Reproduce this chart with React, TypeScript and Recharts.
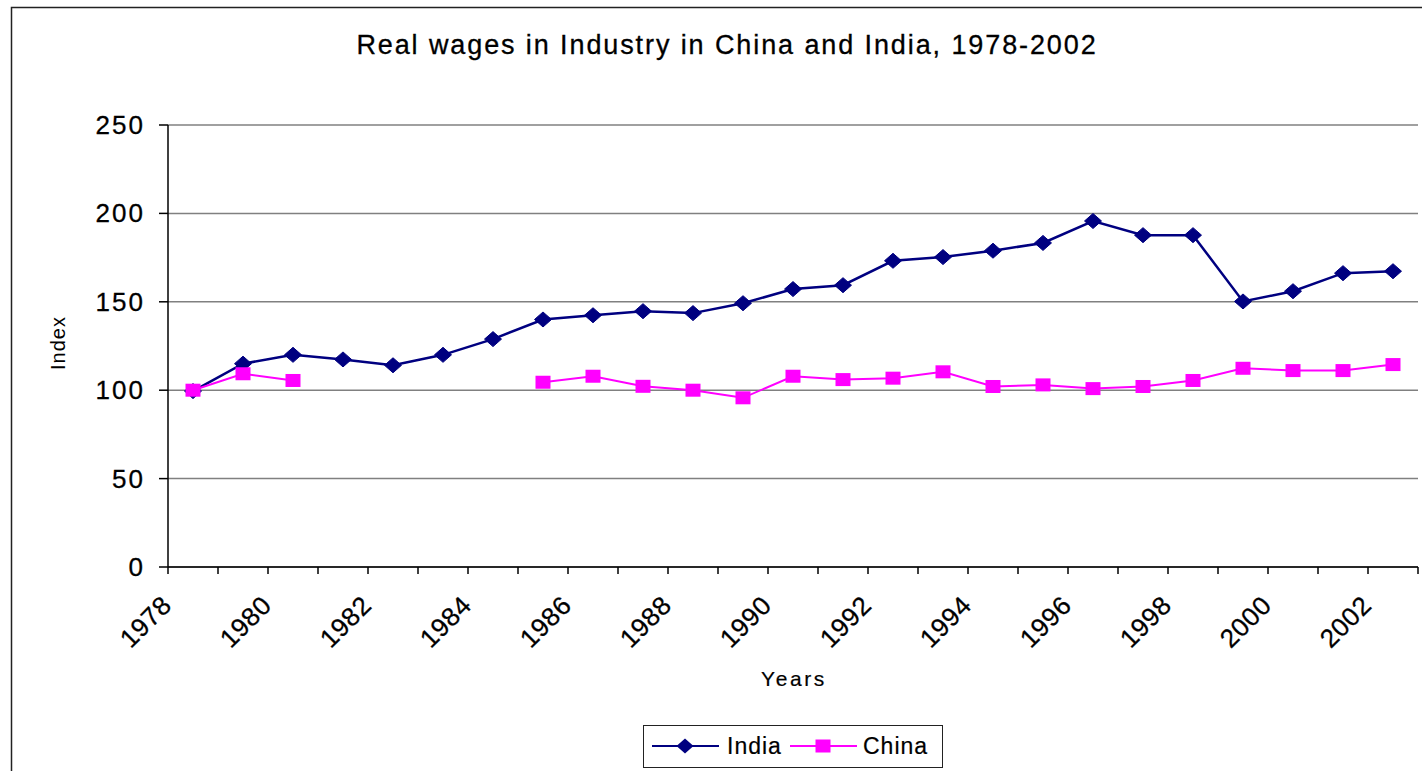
import React from 'react';
import { LineChart, Line, XAxis, YAxis, CartesianGrid, Legend } from 'recharts';

const years = ['1978', '1979', '1980', '1981', '1982', '1983', '1984', '1985', '1986', '1987', '1988', '1989', '1990', '1991', '1992', '1993', '1994', '1995', '1996', '1997', '1998', '1999', '2000', '2001', '2002'];
const india = [99.5, 115, 120, 117.4, 114.1, 120, 128.9, 140, 142.4, 144.7, 143.6, 149.2, 157.2, 159.4, 173.2, 175.3, 178.9, 183.3, 195.7, 187.7, 187.7, 150.2, 156, 166.2, 167.3];
const china = [100, 109.3, 105.5, null, null, null, null, 104.5, 107.9, 102.2, 100, 95.7, 107.9, 106, 106.8, 110.4, 102.1, 103, 100.9, 102.1, 105.5, 112.4, 111.1, 111.1, 114.5];
const yTicks = [0, 50, 100, 150, 200, 250];
const seriesNames = ['India', 'China'];
const title = 'Real wages in Industry in China and India, 1978-2002';
const xTitle = 'Years';
const yTitle = 'Index';

const data = years.map((y, i) => ({ year: y, India: india[i], China: china[i] }));

const FONT = '"Liberation Sans", Arial, Helvetica, sans-serif';
const HALF = 25;
const INDIA_COLOR = '#000080';
const CHINA_COLOR = '#FF00FF';

function XTick(props: any) {
  const { x, y, payload, index } = props;
  const bx = x - HALF;
  const isEven = Number(payload.value) % 2 === 0;
  const isLast = index === years.length - 1 || payload.value === years[years.length - 1];
  const ax = bx + 5;
  const ay = y + 40;
  return (
    <g>
      <line x1={bx} y1={y} x2={bx} y2={y + 7} stroke="#000" strokeWidth={1.5} />
      {isLast && <line x1={x + HALF} y1={y} x2={x + HALF} y2={y + 7} stroke="#000" strokeWidth={1.5} />}
      {isEven && (
        <text
          x={ax}
          y={ay}
          textAnchor="end"
          transform={`rotate(-45 ${ax} ${ay})`}
          fontSize={26}
          fontFamily={FONT}
          fill="#000"
          stroke="#000"
          strokeWidth={0.3}
          style={{ letterSpacing: '0.5px' }}
        >
          {payload.value}
        </text>
      )}
    </g>
  );
}

function YTick(props: any) {
  const { x, y, payload } = props;
  return (
    <text x={x} y={y + 9} textAnchor="end" fontSize={26} fontFamily={FONT} fill="#000" stroke="#000" strokeWidth={0.3} style={{ letterSpacing: '2px' }}>
      {payload.value}
    </text>
  );
}

function DiamondDot(props: any) {
  const { cx, cy, index } = props;
  if (cx == null || cy == null || props.value == null) return <g key={`d-${index}`} />;
  return (
    <path
      key={`d-${index}`}
      d={`M${cx},${cy - 7.5} L${cx + 8.5},${cy} L${cx},${cy + 7.5} L${cx - 8.5},${cy} Z`}
      fill={INDIA_COLOR}
      stroke={INDIA_COLOR}
      strokeWidth={1}
    />
  );
}

function SquareDot(props: any) {
  const { cx, cy, index } = props;
  if (cx == null || cy == null || props.value == null) return <g key={`s-${index}`} />;
  return <rect key={`s-${index}`} x={cx - 7.5} y={cy - 6.5} width={15} height={13} fill={CHINA_COLOR} />;
}

function LegendBox(props: any) {
  const payload = props.payload || [];
  const slots = [
    { lx1: 9, lx2: 76, mx: 42, tx: 84 },
    { lx1: 147, lx2: 214, mx: 180, tx: 220 },
  ];
  const ordered = seriesNames
    .map((n) => payload.find((p: any) => p.value === n || p.dataKey === n))
    .filter(Boolean);
  return (
    <svg width={300} height={43} style={{ display: 'block' }}>
      <rect x={0.5} y={0.5} width={299} height={42} fill="#fff" stroke="#222" strokeWidth={1} />
      {ordered.map((p: any, i: number) => {
        const s = slots[i] || slots[0];
        const color = p.color;
        const cy = 21;
        return (
          <g key={p.value}>
            <line x1={s.lx1} y1={cy} x2={s.lx2} y2={cy} stroke={color} strokeWidth={2} />
            {i === 0 ? (
              <path d={`M${s.mx},${cy - 7.5} L${s.mx + 8.5},${cy} L${s.mx},${cy + 7.5} L${s.mx - 8.5},${cy} Z`} fill={color} />
            ) : (
              <rect x={s.mx - 7.5} y={cy - 6.5} width={15} height={13} fill={color} />
            )}
            <text x={s.tx} y={cy + 8} fontSize={23} fontFamily={FONT} fill="#000" stroke="#000" strokeWidth={0.2} style={{ letterSpacing: '1px' }}>
              {p.value}
            </text>
          </g>
        );
      })}
    </svg>
  );
}

export default function App() {
  return (
    <div style={{ position: 'absolute', left: 0, top: 0, width: 1422, height: 771, overflow: 'hidden', background: '#fff' }}>
      <LineChart
        width={1422}
        height={771}
        data={data}
        margin={{ top: 125, right: 4, bottom: 174, left: 108 }}
      >
        <CartesianGrid vertical={false} stroke="#808080" strokeWidth={1.5} yAxisId="left" />
        <XAxis
          dataKey="year"
          interval={0}
          padding={{ left: HALF, right: HALF }}
          tickSize={0}
          tickMargin={0}
          tickLine={false}
          axisLine={{ stroke: '#000', strokeWidth: 1.5 }}
          tick={<XTick />}
          height={30}
        />
        <YAxis
          yAxisId="left"
          domain={[0, 250]}
          ticks={yTicks}
          interval={0}
          width={60}
          tickSize={9}
          tickMargin={14}
          tickLine={{ stroke: '#000', strokeWidth: 1.5 }}
          axisLine={{ stroke: '#000', strokeWidth: 1.5 }}
          tick={<YTick />}
        />
        <YAxis
          yAxisId="right"
          orientation="right"
          domain={[0, 250]}
          ticks={yTicks}
          width={0}
          tick={false}
          tickLine={false}
          axisLine={{ stroke: '#808080', strokeWidth: 2 }}
        />
        <Legend
          layout="horizontal"
          verticalAlign="middle"
          align="center"
          wrapperStyle={{ left: 643, top: 725, width: 300, height: 43 }}
          content={<LegendBox />}
        />
        <Line
          yAxisId="left"
          type="linear"
          dataKey="India"
          name="India"
          stroke={INDIA_COLOR}
          strokeWidth={2.5}
          dot={<DiamondDot />}
          activeDot={false}
          isAnimationActive={false}
        />
        <Line
          yAxisId="left"
          type="linear"
          dataKey="China"
          name="China"
          stroke={CHINA_COLOR}
          strokeWidth={2}
          dot={<SquareDot />}
          activeDot={false}
          isAnimationActive={false}
        />
      </LineChart>
      <svg
        width={1422}
        height={771}
        style={{ position: 'absolute', left: 0, top: 0, pointerEvents: 'none' }}
      >
        <rect x={11.5} y={7.5} width={1430} height={800} fill="none" stroke="#222" strokeWidth={1.5} />
        <text x={727} y={54} textAnchor="middle" fontSize={27} fontFamily={FONT} fill="#000" stroke="#000" strokeWidth={0.3} style={{ letterSpacing: '1.9px' }}>
          {title}
        </text>
        <text
          x={65}
          y={343}
          textAnchor="middle"
          transform="rotate(-90 65 343)"
          fontSize={20}
          fontFamily={FONT}
          fill="#000"
          style={{ letterSpacing: '1px' }}
        >
          {yTitle}
        </text>
        <text x={794} y={686} textAnchor="middle" fontSize={21} fontFamily={FONT} fill="#000" stroke="#000" strokeWidth={0.2} style={{ letterSpacing: '2.6px' }}>
          {xTitle}
        </text>
      </svg>
    </div>
  );
}
